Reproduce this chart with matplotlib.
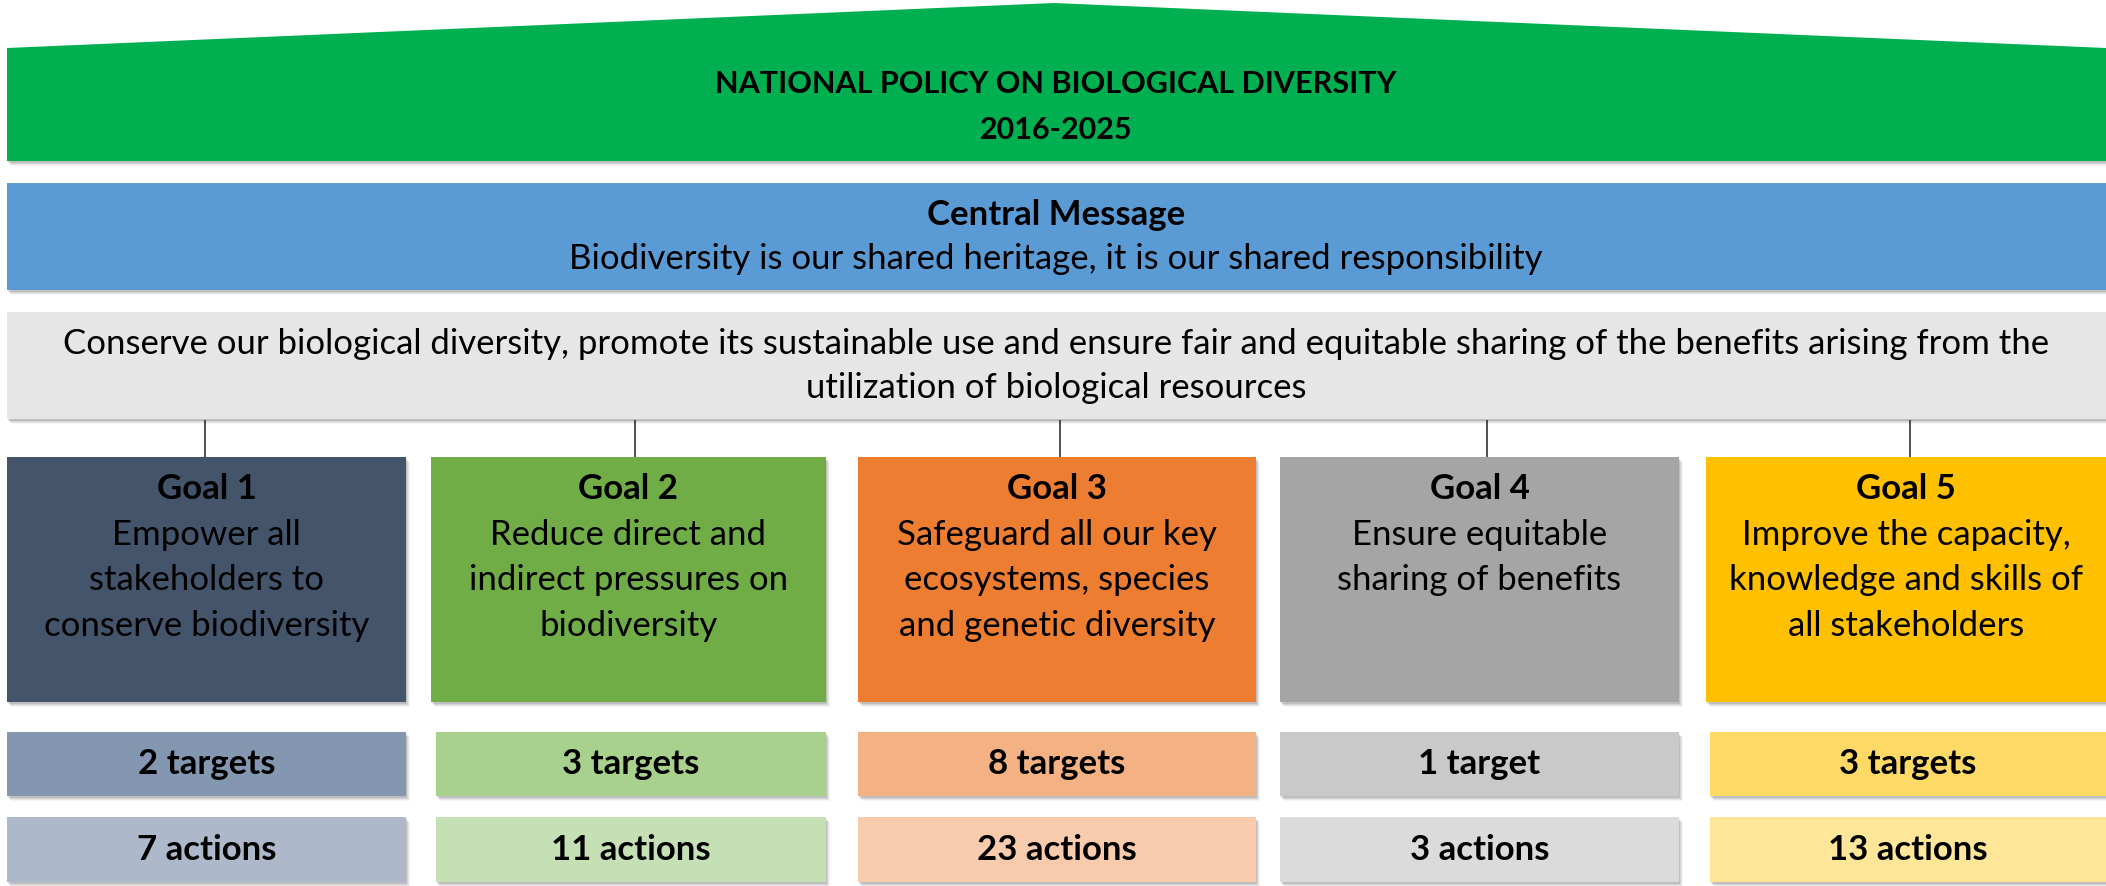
import matplotlib.pyplot as plt
from matplotlib.patches import Rectangle, Polygon

plt.rcParams['font.family'] = ['Lato', 'DejaVu Sans']

# ---- content ----
title_lines = ["NATIONAL POLICY ON BIOLOGICAL DIVERSITY", "2016-2025"]
central_head = "Central Message"
central_msg = "Biodiversity is our shared heritage, it is our shared responsibility"
mission = ("Conserve our biological diversity, promote its sustainable use and ensure fair and equitable sharing of the benefits arising from the\n"
           "utilization of biological resources")

goal_names = ["Goal 1", "Goal 2", "Goal 3", "Goal 4", "Goal 5"]
goal_texts = ["Empower all\nstakeholders to\nconserve biodiversity",
              "Reduce direct and\nindirect pressures on\nbiodiversity",
              "Safeguard all our key\necosystems, species\nand genetic diversity",
              "Ensure equitable\nsharing of benefits",
              "Improve the capacity,\nknowledge and skills of\nall stakeholders"]
n_targets = [2, 3, 8, 1, 3]
n_actions = [7, 11, 23, 3, 13]

goal_colors = ["#44546A", "#70AD47", "#ED7D31", "#A5A5A5", "#FFC000"]
target_colors = ["#8497B0", "#A9D18E", "#F4B183", "#C9C9C9", "#FFD966"]
action_colors = ["#ADB9CA", "#C5E0B4", "#F8CBAD", "#DBDBDB", "#FFE699"]

# column layout in pixels (left, right)
goal_x = [(7, 406), (431, 826), (858, 1256), (1280, 1679), (1706, 2106)]
small_x = [(7, 406), (436, 826), (858, 1256), (1280, 1679), (1710, 2106)]
connector_x = [205, 635, 1060, 1487, 1910]

W, H = 2106, 886
fig = plt.figure(figsize=(W / 100, H / 100), dpi=100)
ax = fig.add_axes([0, 0, 1, 1])
ax.set_xlim(0, W)
ax.set_ylim(H, 0)
ax.axis('off')


def shadow_rect(x0, y0, x1, y1, color):
    # soft drop shadow below/right
    for i, a in enumerate([0.10, 0.08, 0.06, 0.04]):
        ax.add_patch(Rectangle((x0 + 1 + i, y0 + 2 + i), x1 - x0, y1 - y0,
                               facecolor='#000000', alpha=a, lw=0, zorder=1))
    ax.add_patch(Rectangle((x0, y0), x1 - x0, y1 - y0, facecolor=color, lw=0, zorder=2))


# roof
for i, a in enumerate([0.10, 0.08, 0.06, 0.04]):
    ax.add_patch(Polygon([(7 + 1 + i, 48 + 2 + i), (1054, 3 + 2 + i), (2106, 48 + 2 + i),
                          (2106, 161 + 2 + i), (7 + 1 + i, 161 + 2 + i)],
                         closed=True, facecolor='#000000', alpha=a, lw=0, zorder=1))
ax.add_patch(Polygon([(7, 48), (1054, 3), (2106, 48), (2106, 161), (7, 161)],
                     closed=True, facecolor='#00B050', lw=0, zorder=2))
ax.text(1056, 84, title_lines[0], ha='center', va='center', fontsize=22, fontweight='bold', zorder=3)
ax.text(1056, 130, title_lines[1], ha='center', va='center', fontsize=22, fontweight='bold', zorder=3)

# central message
shadow_rect(7, 183, 2106, 290, '#5B9BD5')
ax.text(1056, 215, central_head, ha='center', va='center', fontsize=25, fontweight='bold', zorder=3)
ax.text(1056, 259, central_msg, ha='center', va='center', fontsize=25, zorder=3)

# mission
shadow_rect(7, 312, 2106, 419, '#E6E6E6')
for j, line in enumerate(mission.split("\n")):
    ax.text(1056, 344 + j * 44, line, ha='center', va='center', fontsize=25, zorder=3)

for i in range(len(goal_names)):
    gx0, gx1 = goal_x[i]
    cx = (gx0 + gx1) / 2
    # connector
    ax.plot([connector_x[i], connector_x[i]], [421, 457], color='#333333', lw=1.2, zorder=0)
    shadow_rect(gx0, 457, gx1, 702, goal_colors[i])
    ax.text(cx, 489, goal_names[i], ha='center', va='center', fontsize=25, fontweight='bold', zorder=3)
    for j, line in enumerate(goal_texts[i].split("\n")):
        ax.text(cx, 535 + j * 45.5, line, ha='center', va='center', fontsize=25, zorder=3)

    sx0, sx1 = small_x[i]
    scx = (sx0 + sx1) / 2
    shadow_rect(sx0, 732, sx1, 796, target_colors[i])
    t = f"{n_targets[i]} target" + ("s" if n_targets[i] != 1 else "")
    ax.text(scx, 764, t, ha='center', va='center', fontsize=25, fontweight='bold', zorder=3)
    shadow_rect(sx0, 817, sx1, 882, action_colors[i])
    ax.text(scx, 850, f"{n_actions[i]} actions", ha='center', va='center', fontsize=25,
            fontweight='bold', zorder=3)

fig.savefig('out.png', dpi=100)
